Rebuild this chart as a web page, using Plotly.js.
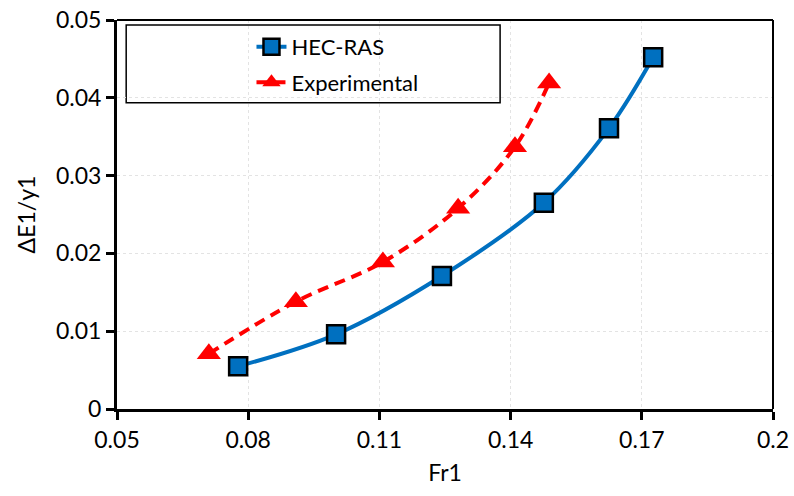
<html>
<head>
<script src="https://cdn.plot.ly/plotly-3.0.1.min.js"></script>
<style>body{margin:0;}</style>
</head>
<body>
<div id="chart" style="width:794px;height:496px;"></div>
<script>
// values
let hecX = [0.0777, 0.1001, 0.1243, 0.1476, 0.1625, 0.1726];
let hecY = [0.0055, 0.0096, 0.0171, 0.0265, 0.0361, 0.0452];
let expX = [0.0710, 0.0909, 0.1108, 0.1280, 0.1410, 0.1488];
let expY = [0.0071, 0.0138, 0.0189, 0.0258, 0.0337, 0.0419];

let xTicks = [0.05, 0.08, 0.11, 0.14, 0.17, 0.2];
let xTickText = ['0.05', '0.08', '0.11', '0.14', '0.17', '0.2'];
let yTicks = [0, 0.01, 0.02, 0.03, 0.04, 0.05];
let yTickText = ['0', '0.01', '0.02', '0.03', '0.04', '0.05'];

let font = 'Lato, "Open Sans", sans-serif';

let data = [
  {
    x: hecX, y: hecY,
    type: 'scatter', mode: 'lines+markers',
    name: 'HEC-RAS', legendgroup: 'a',
    line: {color: '#0070C0', width: 4, shape: 'spline', smoothing: 1},
    marker: {symbol: 'square', size: 18, color: '#0070C0', line: {color: '#000000', width: 2.5}}
  },
  {
    x: expX, y: expY,
    type: 'scatter', mode: 'lines+markers',
    name: 'Experimental', legendgroup: 'b',
    line: {color: '#FF0000', width: 4, dash: '11px,7px', shape: 'spline', smoothing: 1},
    marker: {symbol: 'triangle-up', size: 21, color: '#FF0000'}
  }
];

let layout = {
  width: 794, height: 496,
  margin: {l: 117, r: 21, t: 20, b: 87},
  paper_bgcolor: '#ffffff', plot_bgcolor: '#ffffff',
  font: {family: font, size: 23, color: '#000000'},
  showlegend: true,
  legend: {
    x: 0.205, y: 0.985, xanchor: 'left', yanchor: 'top',
    bgcolor: 'rgba(0,0,0,0)', borderwidth: 0,
    font: {family: font, size: 22, color: '#000000'},
    tracegroupgap: 4
  },
  xaxis: {
    range: [0.05, 0.2],
    tickvals: xTicks, ticktext: xTickText,
    showline: true, linecolor: '#000000', linewidth: 3,
    ticks: 'outside', ticklen: 8, tickwidth: 3, tickcolor: '#000000',
    tickfont: {family: font, size: 23},
    showgrid: true, gridcolor: '#e3e3e3', griddash: '3px,3px', gridwidth: 1,
    zeroline: false,
    title: {text: 'Fr1', font: {family: font, size: 23}, standoff: 14}
  },
  yaxis: {
    range: [0, 0.05],
    tickvals: yTicks, ticktext: yTickText,
    showline: true, linecolor: '#000000', linewidth: 3,
    ticks: 'outside', ticklen: 8, tickwidth: 3, tickcolor: '#000000',
    tickfont: {family: font, size: 23},
    showgrid: true, gridcolor: '#e3e3e3', griddash: '3px,3px', gridwidth: 1,
    zeroline: false,
    title: {text: 'ΔE1/y1', font: {family: font, size: 23}, standoff: 14}
  },
  shapes: [
    // plot frame top/right
    {type: 'line', xref: 'paper', yref: 'paper', x0: 0, x1: 1, y0: 1, y1: 1, line: {color: '#000', width: 2}},
    {type: 'line', xref: 'paper', yref: 'paper', x0: 1, x1: 1, y0: 0, y1: 1, line: {color: '#000', width: 2}},
    // legend box
    {type: 'rect', xref: 'paper', yref: 'paper', x0: 0.014, x1: 0.584, y0: 0.787, y1: 0.987,
     line: {color: '#000', width: 1.5}, fillcolor: '#ffffff', layer: 'below'}
  ]
};

Plotly.newPlot('chart', data, layout, {displayModeBar: false, staticPlot: true});
</script>
</body>
</html>
